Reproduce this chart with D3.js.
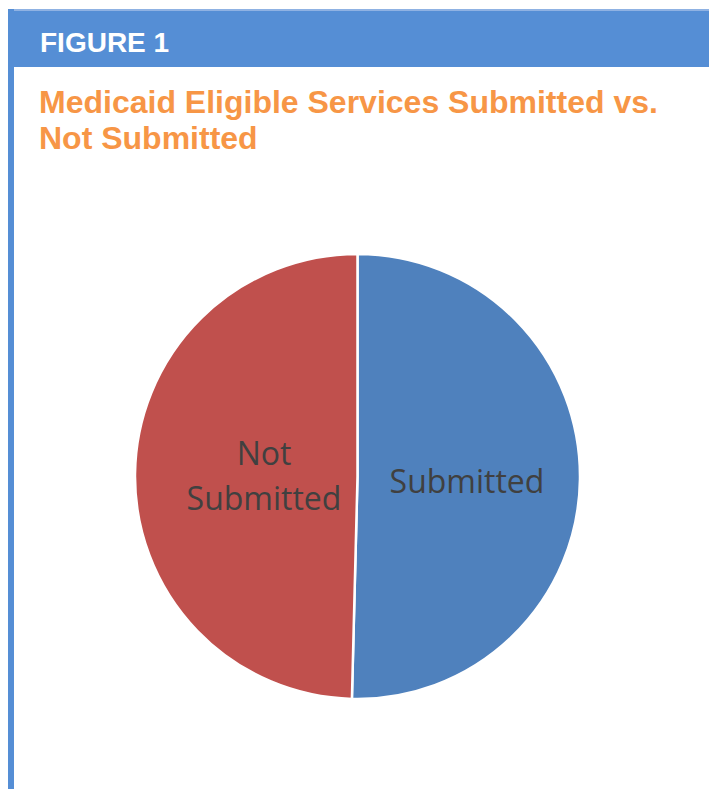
<!DOCTYPE html>
<html>
<head>
<meta charset="utf-8">
<title>Figure 1</title>
<script src="https://d3js.org/d3.v7.min.js"></script>
<style>
  body { margin: 0; background: #fff; }
</style>
</head>
<body>
<svg width="709" height="789"></svg>
<script>
    // chart data
    var categories = ["Submitted", "Not Submitted"];
    var values = [50.4, 49.6];
    var colors = ["#4f81bd", "#c0504d"];
    var labelLines = [["Submitted"], ["Not", "Submitted"]];

    var svg = d3.select("svg");

    // blue frame: header band + left rule
    svg.append("rect").attr("x", 8).attr("y", 9).attr("width", 701).attr("height", 58).attr("fill", "#558ed5");
    svg.append("rect").attr("x", 8).attr("y", 9).attr("width", 701).attr("height", 2).attr("fill", "#8fb2e3");
    svg.append("rect").attr("x", 8).attr("y", 9).attr("width", 6).attr("height", 780).attr("fill", "#558ed5");

    svg.append("text")
        .attr("x", 40).attr("y", 52)
        .attr("fill", "#fff")
        .style("font", "bold 28px 'Liberation Sans', Arial, sans-serif")
        .text("FIGURE 1");

    var title = svg.append("text")
        .attr("fill", "#f79646")
        .style("font", "bold 32px 'Liberation Sans', Arial, sans-serif");
    title.append("tspan").attr("x", 39).attr("y", 113).text("Medicaid Eligible Services Submitted vs.");
    title.append("tspan").attr("x", 39).attr("y", 149).text("Not Submitted");

    // pie
    var cx = 357.5, cy = 476.5, radius = 222.5;
    var g = svg.append("g").attr("transform", "translate(" + cx + "," + cy + ")");

    var pie = d3.pie().sort(null).value(function (d) { return d; });
    var arc = d3.arc().innerRadius(0).outerRadius(radius);
    var arcs = pie(values);

    g.selectAll("path")
        .data(arcs)
        .enter().append("path")
        .attr("d", arc)
        .attr("fill", function (d, i) { return colors[i]; })
        .attr("stroke", "#fff")
        .attr("stroke-width", 2.5);

    // labels inside slices (Excel puts the wrapped one a bit closer in)
    var labelR = [109.5, 93.5];
    var labelDy = [15, 12];
    var labels = g.selectAll("text.lbl")
        .data(arcs)
        .enter().append("text")
        .attr("class", "lbl")
        .attr("text-anchor", "middle")
        .attr("fill", "#404040")
        .style("font", "32px 'Open Sans', sans-serif")
        .attr("transform", function (d, i) {
            var c = d3.arc().innerRadius(labelR[i]).outerRadius(labelR[i]).centroid(d);
            return "translate(" + c[0] + "," + c[1] + ")";
        });

    labels.each(function (d, i) {
        var lines = labelLines[i];
        var t = d3.select(this);
        lines.forEach(function (s, k) {
            t.append("tspan")
                .attr("x", 0)
                .attr("y", (k - (lines.length - 1) / 2) * 45 + labelDy[i])
                .text(s);
        });
    });
</script>
</body>
</html>
